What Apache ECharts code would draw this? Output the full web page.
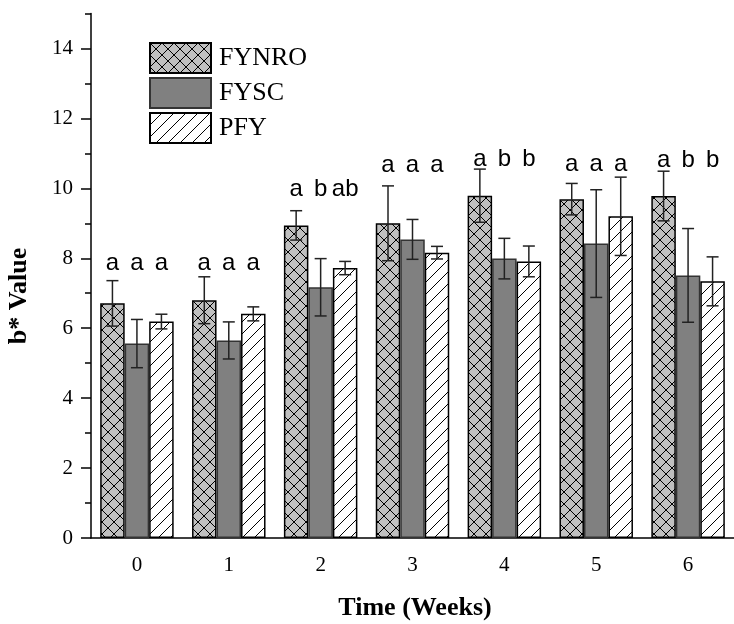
<!DOCTYPE html>
<html>
<head>
<meta charset="utf-8">
<script src="https://cdn.jsdelivr.net/npm/echarts@6/dist/echarts.min.js"></script>
<style>html,body{margin:0;padding:0;background:#fff}#c{width:734px;height:624px}</style>
</head>
<body>
<div id="c"></div>
<script>
// ---- data ----
var weeks = ['0', '1', '2', '3', '4', '5', '6'];
var seriesNames = ['FYNRO', 'FYSC', 'PFY'];
var FYNRO = [6.71, 6.80, 8.94, 9.00, 9.79, 9.69, 9.78];
var FYNRO_err = [0.65, 0.67, 0.42, 1.07, 0.76, 0.45, 0.71];
var FYSC = [5.56, 5.65, 7.17, 8.54, 7.99, 8.42, 7.51];
var FYSC_err = [0.69, 0.53, 0.82, 0.57, 0.58, 1.54, 1.34];
var PFY = [6.19, 6.41, 7.72, 8.16, 7.91, 9.20, 7.34];
var PFY_err = [0.21, 0.20, 0.19, 0.18, 0.44, 1.12, 0.70];
var letters = [['a','a','a'],['a','a','a'],['a','b','ab'],['a','a','a'],['a','b','b'],['a','a','a'],['a','b','b']];
var letterLevel = [7.66, 7.66, 9.76, 10.45, 10.62, 10.49, 10.59];
var yTickLabels = [0, 2, 4, 6, 8, 10, 12, 14];

// ---- patterns ----
function makeTile(bg, cross) {
  var s = 12;
  var c = document.createElement('canvas');
  c.width = s; c.height = s;
  var g = c.getContext('2d');
  g.fillStyle = bg; g.fillRect(0, 0, s, s);
  g.strokeStyle = '#000'; g.lineWidth = 1;
  for (var k = -1; k <= 1; k++) {
    g.beginPath(); g.moveTo(k * s - 1, s + 1); g.lineTo(k * s + s + 1, -1); g.stroke();
    if (cross) { g.beginPath(); g.moveTo(k * s - 1, -1); g.lineTo(k * s + s + 1, s + 1); g.stroke(); }
  }
  return c;
}
var fills = [
  { image: makeTile('#c0c0c0', true), repeat: 'repeat' },
  '#808080',
  { image: makeTile('#ffffff', false), repeat: 'repeat' }
];
var values = [FYNRO, FYSC, PFY];
var errs = [FYNRO_err, FYSC_err, PFY_err];

var chart = echarts.init(document.getElementById('c'), null, { renderer: 'canvas' });

var series = [];
seriesNames.forEach(function (name, i) {
  series.push({
    name: name, type: 'bar', data: values[i],
    barGap: '0%', barCategoryGap: '20%',
    itemStyle: { color: fills[i], borderColor: i === 1 ? '#333' : '#000', borderWidth: 1.5 },
    z: 2
  });
});
seriesNames.forEach(function (name, i) {
  series.push({
    type: 'custom', name: name + ' err', z: 5,
    data: values[i].map(function (v, j) { return [j, v, errs[i][j]]; }),
    renderItem: function (params, api) {
      var x = api.value(0), v = api.value(1), e = api.value(2);
      var band = api.size([1, 0])[0];
      var bw = band * 0.8 / 3;
      var off = (i - 1) * bw;
      var top = api.coord([x, v + e]);
      var bot = api.coord([x, v - e]);
      var cx = top[0] + off;
      var cap = 6;
      var st = { stroke: '#222', lineWidth: 1.5 };
      return { type: 'group', children: [
        { type: 'line', shape: { x1: cx, y1: top[1], x2: cx, y2: bot[1] }, style: st },
        { type: 'line', shape: { x1: cx - cap, y1: top[1], x2: cx + cap, y2: top[1] }, style: st },
        { type: 'line', shape: { x1: cx - cap, y1: bot[1], x2: cx + cap, y2: bot[1] }, style: st }
      ] };
    }
  });
});
series.push({
  type: 'custom', name: 'letters', z: 6,
  data: letterLevel.map(function (l, j) { return [j, l]; }),
  renderItem: function (params, api) {
    var x = api.value(0), l = api.value(1);
    var band = api.size([1, 0])[0];
    var bw = band * 0.8 / 3;
    var p = api.coord([x, l]);
    var kids = letters[x].map(function (t, k) {
      return { type: 'text', style: { x: p[0] + (k - 1) * bw, y: p[1] + 5, text: t,
        fill: '#000', font: '24px "Liberation Sans", Arial, sans-serif', align: 'center', verticalAlign: 'bottom' } };
    });
    return { type: 'group', children: kids };
  }
});

chart.setOption({
  animation: false,
  backgroundColor: '#fff',
  grid: { left: 91, top: 13.5, width: 651, height: 524.5 },
  legend: {
    data: seriesNames, orient: 'vertical', left: 149, top: 42, padding: 0,
    itemWidth: 61, itemHeight: 30, itemGap: 3, icon: 'rect',
    textStyle: { fontFamily: 'Liberation Serif', fontSize: 26, color: '#000', padding: [0, 0, 0, 3] }
  },
  xAxis: {
    type: 'category', data: weeks,
    axisLine: { lineStyle: { color: '#000', width: 1.5 } },
    axisTick: { alignWithLabel: true, length: 10, lineStyle: { color: '#000', width: 1.5 } },
    axisLabel: { color: '#000', fontFamily: 'Liberation Serif', fontSize: 21, margin: 17 },
    splitLine: { show: false }
  },
  yAxis: [{
    type: 'value', min: 0, max: 15, interval: 2,
    axisLine: { show: true, lineStyle: { color: '#000', width: 1.5 } },
    axisTick: { show: true, length: 10, lineStyle: { color: '#000', width: 1.5 } },
    axisLabel: { color: '#000', fontFamily: 'Liberation Serif', fontSize: 21, margin: 18, showMaxLabel: false,
      formatter: function (v) { return yTickLabels.indexOf(v) >= 0 ? String(v) : ''; } },
    splitLine: { show: false }
  }, {
    type: 'value', min: 0, max: 15, interval: 1, position: 'left',
    axisLine: { show: false },
    axisTick: { show: true, length: 6, lineStyle: { color: '#000', width: 1.5 } },
    axisLabel: { show: false },
    splitLine: { show: false }
  }],
  graphic: [
    { type: 'text', x: 19, y: 296, rotation: Math.PI / 2, style: { text: 'b* Value', fill: '#000',
      font: 'bold 26px "Liberation Serif", serif', align: 'center', verticalAlign: 'middle' } },
    { type: 'text', x: 415, y: 608, style: { text: 'Time (Weeks)', fill: '#000',
      font: 'bold 26px "Liberation Serif", serif', align: 'center', verticalAlign: 'middle' } }
  ],
  series: series
});
</script>
</body>
</html>
